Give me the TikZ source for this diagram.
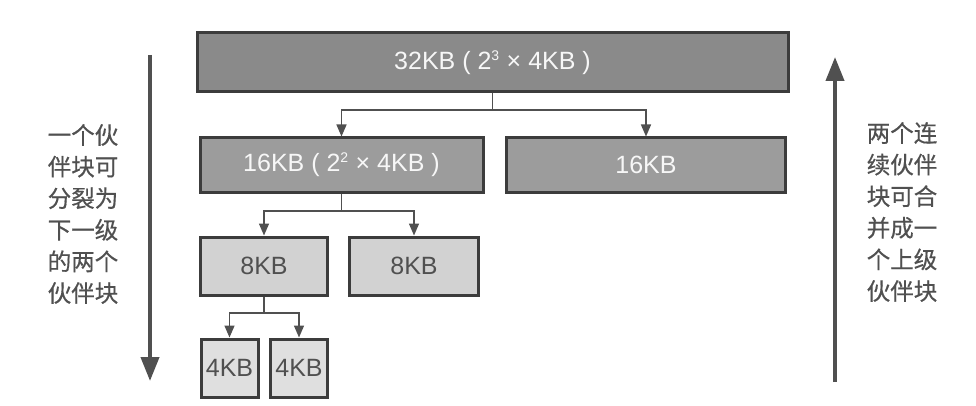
\documentclass[tikz,border=0pt]{standalone}
\usepackage{fontspec}
\setmainfont{Liberation Sans}
\newfontfamily\cjk[FakeBold=0.5]{Noto Sans CJK SC}
\usetikzlibrary{arrows.meta}
\definecolor{bordc}{HTML}{3C3C3C}
\definecolor{darkfill}{HTML}{8A8A8A}
\definecolor{midfill}{HTML}{9C9C9C}
\definecolor{lightfill}{HTML}{D2D2D2}
\definecolor{palefill}{HTML}{DFDFDF}
\definecolor{txtc}{HTML}{505050}
\definecolor{arrc}{HTML}{505050}
\tikzset{
  blk/.style={draw=bordc, line width=3pt, rectangle, inner sep=0pt, font=\fontsize{25}{28}\selectfont},
  dk/.style={blk, fill=darkfill, text=white!94!gray},
  md/.style={blk, fill=midfill, text=white!94!gray},
  lt/.style={blk, fill=lightfill, text=txtc},
  pl/.style={blk, fill=palefill, text=txtc},
  conn/.style={draw=arrc, line width=1.4pt},
  connarr/.style={conn, -{Triangle[width=10pt,length=12pt]}},
  bigarr/.style={draw=arrc, line width=4pt, -{Triangle[width=18pt,length=24pt]}},
  sidetxt/.style={align=left, text=txtc, inner sep=0pt, font=\cjk\fontsize{23.5}{31.6}\selectfont}
}
\begin{document}
\begin{tikzpicture}[x=1pt,y=-1pt]
\useasboundingbox (0,0) rectangle (976,406);
\fill[white] (0,0) rectangle (976,406);
% boxes
\node[dk, minimum width=591pt, minimum height=59pt] (top) at (492.5,62.5) {32KB ( 2\textsuperscript{\fontsize{14}{14}\selectfont 3} × 4KB )};
\node[md, minimum width=283pt, minimum height=54pt] (l2a) at (341.5,165) {16KB ( 2\textsuperscript{\fontsize{14}{14}\selectfont 2} × 4KB )};
\node[md, minimum width=279pt, minimum height=54pt] (l2b) at (646,165) {16KB};
\node[lt, minimum width=127pt, minimum height=58pt] (l3a) at (264,266) {8KB};
\node[lt, minimum width=129pt, minimum height=58pt] (l3b) at (414,266) {8KB};
\node[pl, minimum width=57pt, minimum height=58pt] (l4a) at (229.5,368) {4KB};
\node[pl, minimum width=57pt, minimum height=58pt] (l4b) at (299,368) {4KB};
% connectors
\coordinate (j1) at (492.5,110);
\draw[conn] (top.south) -- (j1);
\draw[connarr] (j1) -| (l2a.north);
\draw[connarr] (j1) -| (l2b.north);
\coordinate (j2) at (341.5,211);
\draw[conn] (l2a.south) -- (j2);
\draw[connarr] (j2) -| (l3a.north);
\draw[connarr] (j2) -| (l3b.north);
\coordinate (j3) at (264,313);
\draw[conn] (l3a.south) -- (j3);
\draw[connarr] (j3) -| (l4a.north);
\draw[connarr] (j3) -| (l4b.north);
% side arrows
\coordinate (la1) at (150,55);
\coordinate (la2) at (150,381);
\draw[bigarr] (la1) -- (la2);
\coordinate (ra1) at (835,382);
\coordinate (ra2) at (835,57);
\draw[bigarr] (ra1) -- (ra2);
% side texts
\node[sidetxt] (lt) at (83,214) {一个伙\\伴块可\\分裂为\\下一级\\的两个\\伙伴块};
\node[sidetxt] (rt) at (902,212) {两个连\\续伙伴\\块可合\\并成一\\个上级\\伙伴块};
\end{tikzpicture}
\end{document}
